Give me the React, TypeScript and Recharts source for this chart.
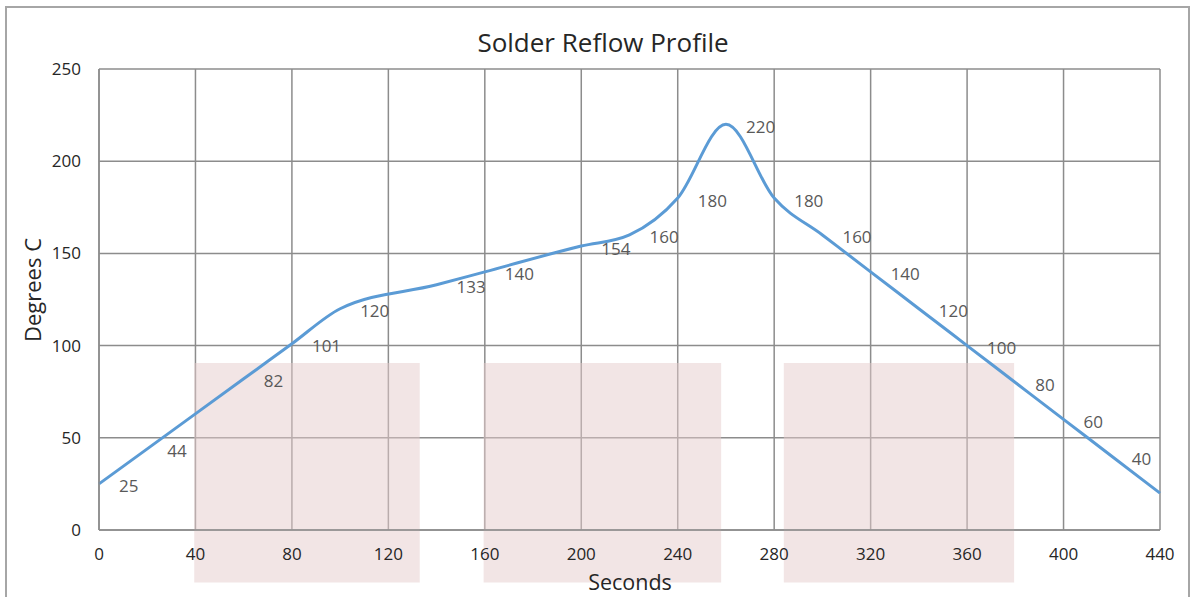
import { LineChart, Line, XAxis, YAxis, CartesianGrid, ReferenceArea, LabelList } from 'recharts'

// reflow profile: time (s) vs temperature (°C)
const seconds = [0, 20, 60, 80, 100, 140, 160, 200, 220, 240, 260, 280, 300, 320, 340, 360, 380, 400, 420, 440]
const degrees = [25, 44, 82, 101, 120, 133, 140, 154, 160, 180, 220, 180, 160, 140, 120, 100, 80, 60, 40, 20]

const xTicks = [0, 40, 80, 120, 160, 200, 240, 280, 320, 360, 400, 440]
const yTicks = [0, 50, 100, 150, 200, 250]

// shaded zones (preheat / soak / cooling), in data units
const zones = [
  { x1: 39.5, x2: 133 },
  { x1: 159.5, x2: 258 },
  { x1: 284, x2: 379.5 },
]

const data = seconds.map((s, i) => ({ s, t: degrees[i] }))

const FONT = '"Open Sans", Lato, sans-serif'
const GRID = '#8c8c8c'

function PointLabel(props: any) {
  const { x, y, value, index } = props
  if (index === degrees.length - 1) return null
  return (
    <text x={x + 20} y={y} dy="0.5em" fill="#595959" fontSize={17} fontFamily={FONT}>
      {value}
    </text>
  )
}

export default function App() {
  return (
    <div style={{ position: 'fixed', left: 0, top: 0, width: 1191, height: 597, overflow: 'hidden', background: '#fff' }}>
      <div
        style={{
          position: 'absolute', left: 5, top: 6, width: 1185, height: 620,
          border: '2px solid #a6a6a6', boxSizing: 'border-box',
        }}
      />
      <div style={{ position: 'absolute', left: 0, top: 0 }}>
        <LineChart width={1191} height={597} data={data} margin={{ top: 69, right: 31, left: 39, bottom: 0 }}>
          <CartesianGrid stroke={GRID} strokeWidth={1.5} />
          {zones.map((z, i) => (
            <ReferenceArea
              key={i}
              x1={z.x1}
              x2={z.x2}
              y1={-28.5}
              y2={90.5}
              fill="#e6cbcb"
              fillOpacity={0.5}
              stroke="none"
              ifOverflow="visible"
            />
          ))}
          <XAxis
            dataKey="s"
            type="number"
            domain={[0, 440]}
            ticks={xTicks}
            height={67}
            tick={{ fill: '#262626', fontSize: 17, fontFamily: FONT }}
            tickLine={false}
            tickMargin={12}
            axisLine={{ stroke: GRID, strokeWidth: 1.5 }}
          />
          <YAxis
            type="number"
            domain={[0, 250]}
            ticks={yTicks}
            width={60}
            tick={{ fill: '#262626', fontSize: 17, fontFamily: FONT }}
            tickLine={false}
            tickMargin={12}
            axisLine={{ stroke: GRID, strokeWidth: 1.5 }}
          />
          <Line
            dataKey="t"
            type="monotone"
            stroke="#5b9bd5"
            strokeWidth={3}
            dot={false}
            isAnimationActive={false}
          >
            <LabelList dataKey="t" content={PointLabel} />
          </Line>
        </LineChart>
      </div>
      <div
        style={{
          position: 'absolute', left: 603, top: 24, transform: 'translateX(-50%)',
          fontFamily: FONT, fontSize: 26, color: '#262626', whiteSpace: 'nowrap',
        }}
      >
        Solder Reflow Profile
      </div>
      <div
        style={{
          position: 'absolute', left: 630, top: 567, transform: 'translateX(-50%)',
          fontFamily: FONT, fontSize: 21.5, color: '#262626', whiteSpace: 'nowrap',
        }}
      >
        Seconds
      </div>
      <div
        style={{
          position: 'absolute', left: 32, top: 290, transform: 'translate(-50%, -50%) rotate(-90deg)',
          fontFamily: FONT, fontSize: 22, color: '#262626', whiteSpace: 'nowrap',
        }}
      >
        Degrees C
      </div>
    </div>
  )
}
